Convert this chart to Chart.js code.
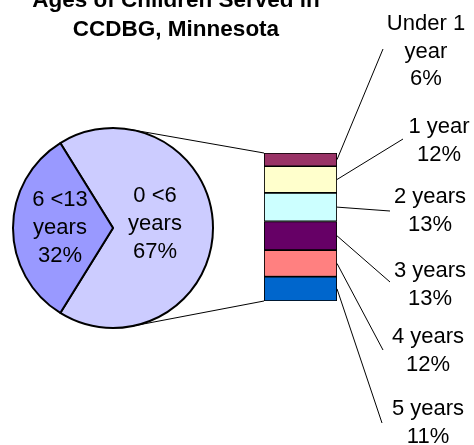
<!DOCTYPE html>
<html>
<head>
<meta charset="utf-8">
<script src="https://cdn.jsdelivr.net/npm/chart.js@4"></script>
<style>
  html, body { margin: 0; padding: 0; background: #fff; }
  #wrap { position: relative; width: 474px; height: 445px; overflow: hidden; }
  #wrap canvas { position: absolute; left: 0; top: 0; }
</style>
</head>
<body>
<div id="wrap">
  <canvas id="pie" width="474" height="445"></canvas>
  <canvas id="bar" width="474" height="445"></canvas>
</div>
<script>
// Datos
const titleLines = ['Ages of Children Served in', 'CCDBG, Minnesota'];

const pieLabels = ['0 <6 years', '6 <13 years'];
const pieValues = [67, 32];
const pieColors = ['#CCCCFF', '#9999FF'];

const barLabels = ['Under 1 year', '1 year', '2 years', '3 years', '4 years', '5 years'];
const barValues = [6, 12, 13, 13, 12, 11];
const barColors = ['#993366', '#FFFFCC', '#CCFFFF', '#660066', '#FF8080', '#0066CC'];

// Layout (text placement only)
const FONT = '"Liberation Sans", Arial, sans-serif';
const LINE = 28;
const titlePos = { x: 176, y: 7 };
const pieLabelPos = [{ r: 0.42, dy: -4 }, { r: 0.53, dy: 0 }];
const barLabelPos = [
    { x: 426, y: 30, endX: 383, endY: 49, wrap: true },
    { x: 439, y: 133, endX: 403, endY: 139 },
    { x: 430, y: 203, endX: 390, endY: 211 },
    { x: 430, y: 277, endX: 390, endY: 282 },
    { x: 428, y: 343, endX: 383, endY: 350 },
    { x: 428, y: 415, endX: 382, endY: 423 }
];

function splitLast(s) {
    const i = s.lastIndexOf(' ');
    return [s.slice(0, i), s.slice(i + 1)];
}

const pieTotal = pieValues.reduce((a, b) => a + b, 0);
const barTotal = barValues.reduce((a, b) => a + b, 0);

// Etiquetas dentro del pastel
const pieText = {
    id: 'pieText',
    afterDatasetsDraw(chart) {
        const ctx = chart.ctx;
        const arcs = chart.getDatasetMeta(0).data;
        ctx.save();
        ctx.font = '22px ' + FONT;
        ctx.fillStyle = '#000';
        ctx.textAlign = 'center';
        ctx.textBaseline = 'middle';
        arcs.forEach((arc, i) => {
            const mid = (arc.startAngle + arc.endAngle) / 2;
            const r = arc.outerRadius * pieLabelPos[i].r;
            const cx = arc.x + Math.cos(mid) * r;
            const cy = arc.y + Math.sin(mid) * r + pieLabelPos[i].dy;
            const lines = splitLast(pieLabels[i]).concat(pieValues[i] + '%');
            lines.forEach((t, k) => ctx.fillText(t, cx, cy + (k - (lines.length - 1) / 2) * LINE));
        });
        ctx.restore();
    }
};

const pieChart = new Chart(document.getElementById('pie'), {
    type: 'pie',
    data: {
        labels: pieLabels,
        datasets: [{
            data: pieValues,
            backgroundColor: pieColors,
            borderColor: '#000',
            borderWidth: 2
        }]
    },
    options: {
        responsive: false,
        animation: false,
        devicePixelRatio: 1,
        rotation: 90 - (pieValues[0] / pieTotal) * 180,
        layout: { padding: { left: 12, top: 127, right: 260, bottom: 116 } },
        plugins: {
            legend: { display: false },
            tooltip: { enabled: false }
        }
    },
    plugins: [pieText]
});

// Título, conectores y etiquetas de la barra
const overlay = {
    id: 'overlay',
    afterDraw(chart) {
        const ctx = chart.ctx;
        ctx.save();

        // título
        ctx.fillStyle = '#000';
        ctx.textAlign = 'center';
        ctx.textBaseline = 'alphabetic';
        ctx.font = 'bold 22.5px ' + FONT;
        titleLines.forEach((t, k) => ctx.fillText(t, titlePos.x, titlePos.y + k * 28.5));

        // geometría de la barra apilada
        const bars = barLabels.map((_, i) => chart.getDatasetMeta(i).data[0]);
        const left = bars[0].x - bars[0].width / 2;
        const right = bars[0].x + bars[0].width / 2;
        const top = Math.min(...bars.map(b => Math.min(b.y, b.base)));
        const bottom = Math.max(...bars.map(b => Math.max(b.y, b.base)));

        // líneas tangentes desde el pastel
        const arc = pieChart.getDatasetMeta(0).data[0];
        const R = arc.outerRadius;
        ctx.strokeStyle = '#000';
        ctx.lineWidth = 1;
        [[top, -1], [bottom, 1]].forEach(([py, side]) => {
            const dx = left - arc.x, dy = py - arc.y;
            const d = Math.hypot(dx, dy);
            const a = Math.atan2(dy, dx) + side * Math.acos(R / d);
            ctx.beginPath();
            ctx.moveTo(arc.x + Math.cos(a) * R, arc.y + Math.sin(a) * R);
            ctx.lineTo(left, py);
            ctx.stroke();
        });

        // líneas guía y etiquetas
        ctx.font = '22px ' + FONT;
        bars.forEach((b, i) => {
            const p = barLabelPos[i];
            const my = (b.y + b.base) / 2;
            ctx.beginPath();
            ctx.moveTo(right, my);
            ctx.lineTo(p.endX, p.endY);
            ctx.stroke();
            const lines = (p.wrap ? splitLast(barLabels[i]) : [barLabels[i]]).concat(barValues[i] + '%');
            lines.forEach((t, k) => ctx.fillText(t, p.x, p.y + k * 27.5));
        });
        ctx.restore();
    }
};

new Chart(document.getElementById('bar'), {
    type: 'bar',
    data: {
        labels: [pieLabels[0]],
        datasets: barLabels.map((l, i) => ({
            label: l,
            data: [barValues[i]],
            backgroundColor: barColors[i],
            borderColor: '#000',
            borderWidth: 1.2,
            borderSkipped: false
        }))
    },
    options: {
        responsive: false,
        animation: false,
        devicePixelRatio: 1,
        layout: { padding: { left: 264, right: 137, top: 153, bottom: 144 } },
        datasets: { bar: { barPercentage: 1, categoryPercentage: 1 } },
        scales: {
            x: { display: false, stacked: true },
            y: { display: false, stacked: true, reverse: true, min: 0, max: barTotal }
        },
        plugins: {
            legend: { display: false },
            tooltip: { enabled: false }
        }
    },
    plugins: [overlay]
});
</script>
</body>
</html>
